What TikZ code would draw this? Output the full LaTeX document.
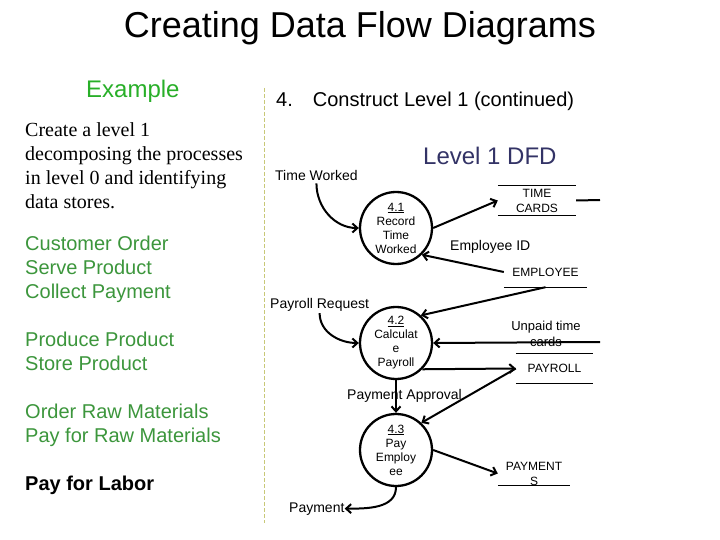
\documentclass[tikz,border=0pt]{standalone}
\usepackage{fontspec}
\setmainfont{Liberation Sans}
\newfontfamily\myserif{Liberation Serif}
\usetikzlibrary{arrows.meta}
\definecolor{exgreen}{RGB}{40,175,40}
\definecolor{listgreen}{RGB}{60,150,60}
\definecolor{dfdblue}{RGB}{51,51,102}
\definecolor{sepline}{RGB}{200,200,120}
\begin{document}
\begin{tikzpicture}[x=1pt,y=-1pt,
  txt/.style={anchor=base west,inner xsep=0pt,inner ysep=2pt},
  serifline/.style={txt,font=\myserif\fontsize{20}{24}\selectfont},
  greenline/.style={txt,text=listgreen,font=\fontsize{20}{24}\selectfont},
  lbl/.style={txt,font=\fontsize{14}{16}\selectfont},
  process/.style={circle,draw,line width=2.3pt,minimum size=72pt,inner sep=0pt,align=center,font=\fontsize{12}{14}\selectfont},
  store/.style={inner sep=0pt,align=center,font=\fontsize{12}{15}\selectfont},
  storeline/.style={line width=0.9pt},
  flow/.style={line width=2pt},
  arr/.style={flow,-{Straight Barb[length=5pt,width=9pt,line width=2pt]}},
  arrback/.style={flow,{Straight Barb[length=5pt,width=9pt,line width=2pt]}-}
]
\useasboundingbox (0,0) rectangle (720,540);
\fill[white] (0,0) rectangle (720,540);

% title and left column
\node[anchor=base] (title) at (360,38) {\fontsize{36}{40}\selectfont Creating Data Flow Diagrams};
\node[txt,text=exgreen,font=\fontsize{24}{28}\selectfont] (example) at (86,98) {Example};
\node[serifline] (s1) at (25,137) {Create a level 1};
\node[serifline] (s2) at (25,161) {decomposing the processes};
\node[serifline] (s3) at (25,185) {in level 0 and identifying};
\node[serifline] (s4) at (25,209) {data stores.};
\node[greenline] (g1) at (25,250) {Customer Order};
\node[greenline] (g2) at (25,274) {Serve Product};
\node[greenline] (g3) at (25,298) {Collect Payment};
\node[greenline] (g4) at (25,346) {Produce Product};
\node[greenline] (g5) at (25,370) {Store Product};
\node[greenline] (g6) at (25,418) {Order Raw Materials};
\node[greenline] (g7) at (25,442) {Pay for Raw Materials};
\node[txt,font=\bfseries\fontsize{20}{24}\selectfont] (g8) at (25,490) {Pay for Labor};

% separator
\draw[sepline,line width=1pt,dash pattern=on 4pt off 2pt] (264,88) -- (264,523);

% right headings
\node[txt,font=\fontsize{20}{24}\selectfont] (step4) at (276,107) {4.\hspace{20pt}Construct Level 1 (continued)};
\node[txt,text=dfdblue,font=\fontsize{24}{28}\selectfont] (lvl) at (423,165) {Level 1 DFD};

% processes
\node[process] (p1) at (396,228) {\underline{4.1}\\Record\\Time\\Worked};
\node[process] (p2) at (396,343) {\underline{4.2}\\Calculat\\e\\Payroll};
\node[process] (p3) at (396,450) {\underline{4.3}\\Pay\\Employ\\ee};

% data stores
\node[store,minimum width=78pt,minimum height=29pt] (tc) at (537,200.5) {TIME\\CARDS};
\draw[storeline] (tc.north west) -- (tc.north east) (tc.south west) -- (tc.south east);
\node[store,minimum width=83pt,minimum height=30pt] (emp) at (545.5,272) {EMPLOYEE};
\draw[storeline] (emp.south west) -- (emp.south east);
\node[store,minimum width=77pt,minimum height=29pt] (pay) at (554.5,368.5) {PAYROLL};
\draw[storeline] (pay.north west) -- (pay.north east) (pay.south west) -- (pay.south east);
\node[store,minimum width=72pt,minimum height=23pt] (pmt) at (534,473.5) {PAYMENT\\S};
\draw[storeline] (pmt.south west) -- (pmt.south east);

% flow labels
\node[lbl] (tw) at (275,181) {Time Worked};
\node[lbl] (pr) at (270,308) {Payroll Request};
\node[lbl] (eid) at (450,250) {Employee ID};
\node[anchor=base,inner sep=0pt,font=\fontsize{13}{15}\selectfont] (ut1) at (546,330) {Unpaid time};
\node[anchor=base,inner sep=0pt,font=\fontsize{13}{15}\selectfont] (ut2) at (546,346) {cards};
\node[lbl] (pa) at (347,399) {Payment\hspace{4pt}Approval};
\node[lbl] (pl) at (289,512) {Payment};

\coordinate (tcr) at (600,200);
\coordinate (ur) at (600,342);

% flows
\draw[arr] (tw.south) to[out=-90,in=180] (p1.west);
\draw[arr] (pr.south) to[out=-90,in=180] (p2.west);
\draw[arr] (p1.east) -- (tc.west);
\draw[flow] (tc.east) -- (tcr);
\draw[arr] (emp.west) -- (p1.-46);
\draw[arr] (emp.south) -- (p2.48);
\draw[arr] (ur) -- (p2.east);
\draw[arr] (p2.-45) -- (pay.west);
\draw[arr] (pay.west) -- (p3.47);
\draw[arr] (p2.south) -- (p3.north);
\draw[arr] (p3.east) -- (pmt.west);
\draw[arr] (p3.south) to[out=-90,in=0] (pl.east);
\end{tikzpicture}
\end{document}
